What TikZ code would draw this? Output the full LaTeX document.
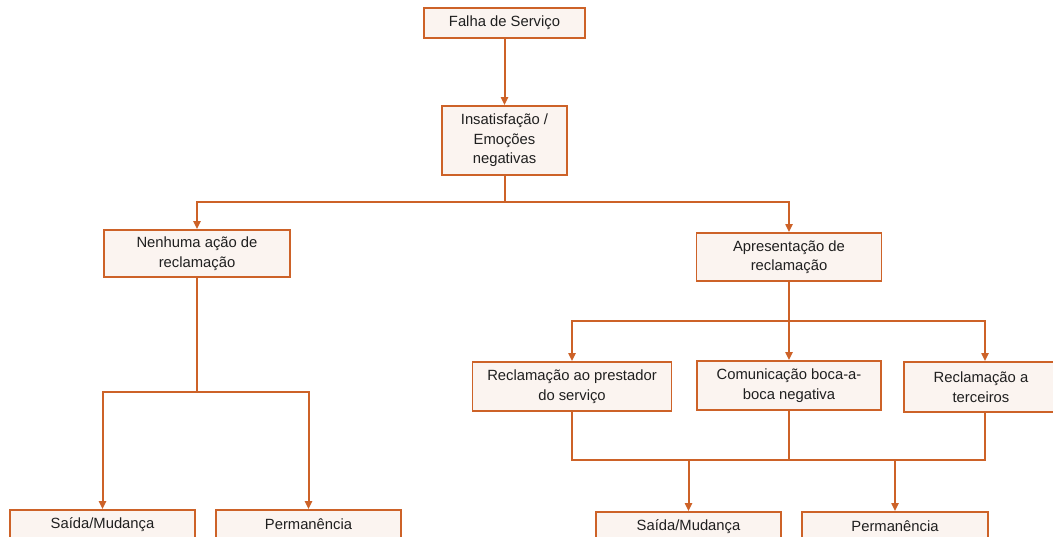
\documentclass[tikz,border=0pt]{standalone}
\usepackage{fontspec}
\setmainfont{Liberation Sans}
\usetikzlibrary{arrows.meta}
\definecolor{edge}{HTML}{CD6228}
\definecolor{boxfill}{HTML}{FBF4F0}
\begin{document}
\begin{tikzpicture}[x=1pt,y=-1pt,
  box/.style={draw=edge,fill=boxfill,line width=1.8pt,inner sep=0pt,align=center,
    font=\fontsize{14.8}{19.5}\selectfont,text=black!88},
  lbl/.style={font=\fontsize{14.8}{19.5}\selectfont,text=black!88},
  conn/.style={draw=edge,line width=2pt},
  arr/.style={conn,-{Triangle[length=8pt,width=7pt]}}]
\useasboundingbox (0,0) rectangle (1053,537);
\begin{scope}
\clip (0,0) rectangle (1053,537);
% boxes
\node[box,minimum width=161pt,minimum height=30pt] (falha) at (504.5,23) {Falha de Serviço};
\node[box,minimum width=125pt,minimum height=69pt] (insat) at (504.5,140.5) {Insatisfação /\\Emoções\\negativas};
\node[box,minimum width=186pt,minimum height=47pt] (nenhuma) at (197,253.5) {Nenhuma ação de\\reclamação};
\node[box,minimum width=185pt,minimum height=48pt] (apres) at (789,257) {Apresentação de\\reclamação};
\node[box,minimum width=199pt,minimum height=49pt] (prest) at (572,386.5) {Reclamação ao prestador\\do serviço};
\node[box,minimum width=184pt,minimum height=49pt] (comun) at (789,385.5) {Comunicação boca-a-\\boca negativa};
\node[box,minimum width=154pt,minimum height=50pt] (terc) at (981,387) {Reclamação a\\terceiros};
\node[box,minimum width=185pt,minimum height=50pt] (saidaL) at (102.5,535) {};
\node[lbl] (saidaLt) at (102.5,524.5) {Saída/Mudança};
\node[box,minimum width=185pt,minimum height=50pt] (permL) at (308.5,535) {};
\node[lbl] (permLt) at (308.5,524.5) {Permanência};
\node[box,minimum width=185pt,minimum height=50pt] (saidaR) at (688.5,537) {};
\node[lbl] (saidaRt) at (688.5,526.5) {Saída/Mudança};
\node[box,minimum width=186pt,minimum height=50pt] (permR) at (895,537) {};
\node[lbl] (permRt) at (895,526.5) {Permanência};
% connectors
\draw[arr] (falha.south) -- (insat.north);
\coordinate (j1) at (504.5,202);
\draw[conn] (insat.south) -- (j1);
\draw[arr] (j1) -| (nenhuma.north);
\draw[arr] (j1) -| (apres.north);
\coordinate (j2) at (789,321);
\draw[conn] (apres.south) -- (j2);
\draw[arr] (j2) -| (prest.north);
\draw[arr] (j2) -- (comun.north);
\draw[arr] (j2) -| ([xshift=4pt]terc.north);
\coordinate (j3) at (197,392);
\draw[conn] (nenhuma.south) -- (j3);
\draw[arr] (j3) -| (saidaL.north);
\draw[arr] (j3) -| (permL.north);
\coordinate (j4) at (789,460);
\draw[conn] (comun.south) -- (j4);
\draw[conn] (prest.south) |- (j4);
\draw[conn] ([xshift=4pt]terc.south) |- (j4);
\draw[arr] (saidaR.north |- j4) -- (saidaR.north);
\draw[arr] (permR.north |- j4) -- (permR.north);
\end{scope}
\end{tikzpicture}
\end{document}
